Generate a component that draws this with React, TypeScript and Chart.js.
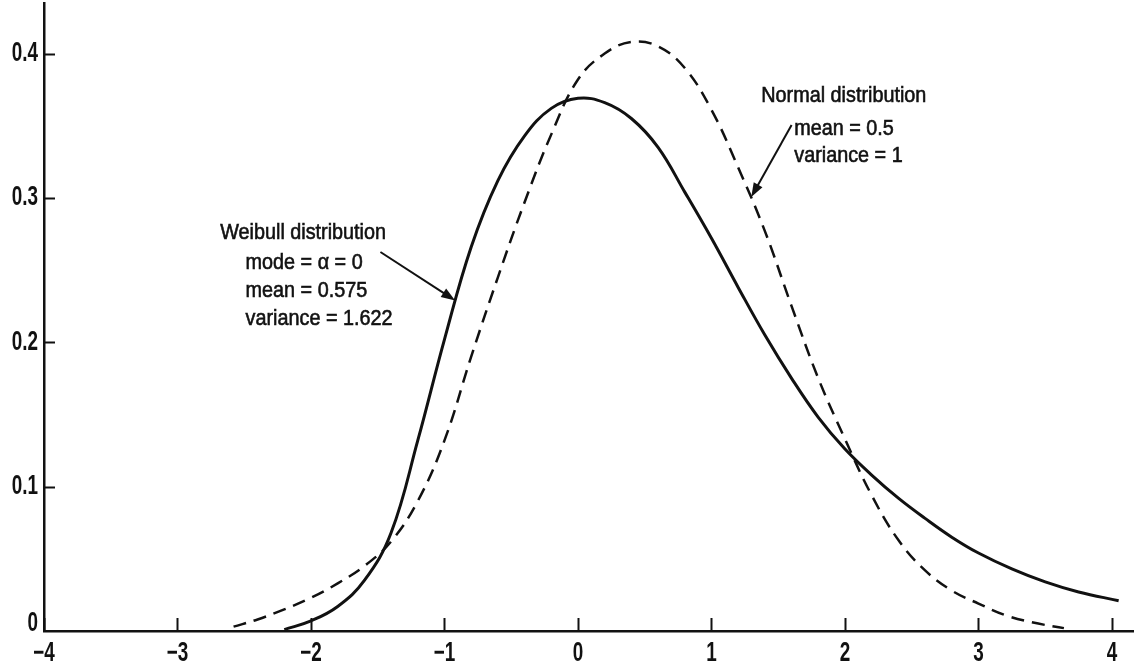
import React, { useEffect, useRef } from "react";
import { Chart, registerables } from "chart.js";

Chart.register(...registerables);

// ---- data ----
const normalX = [-2.58, -2.4, -2.2, -2.0, -1.8, -1.6, -1.4, -1.2, -1.0, -0.8, -0.6, -0.4, -0.2, 0.0, 0.2, 0.4, 0.6, 0.8, 1.0, 1.2, 1.4, 1.6, 1.8, 2.0, 2.2, 2.4, 2.6, 2.8, 3.0, 3.2, 3.4, 3.64];
const normalY = [0.003, 0.008, 0.015, 0.023, 0.033, 0.045, 0.062, 0.09, 0.132, 0.19, 0.245, 0.297, 0.344, 0.382, 0.4, 0.408, 0.405, 0.39, 0.361, 0.321, 0.277, 0.225, 0.175, 0.133, 0.094, 0.063, 0.042, 0.028, 0.019, 0.011, 0.006, 0.002];

const weibullX = [-2.2, -2.0, -1.8, -1.6, -1.4, -1.2, -1.0, -0.8, -0.6, -0.4, -0.2, 0.0, 0.2, 0.4, 0.6, 0.8, 1.0, 1.2, 1.4, 1.6, 1.8, 2.0, 2.2, 2.4, 2.6, 2.8, 3.0, 3.25, 3.5, 3.75, 4.05];
const weibullY = [0.001, 0.007, 0.017, 0.035, 0.068, 0.132, 0.202, 0.266, 0.312, 0.343, 0.362, 0.369, 0.366, 0.355, 0.335, 0.304, 0.272, 0.238, 0.205, 0.175, 0.148, 0.126, 0.108, 0.092, 0.078, 0.065, 0.054, 0.043, 0.034, 0.027, 0.021];

const xTickValues = [-4, -3, -2, -1, 0, 1, 2, 3, 4];
const xTickLabels = ["\u22124", "\u22123", "\u22122", "\u22121", "0", "1", "2", "3", "4"];
const yTickValues = [0, 0.1, 0.2, 0.3, 0.4];
const yTickLabels = ["0", "0.1", "0.2", "0.3", "0.4"];

const weibullLabel = ["Weibull distribution", "mode = \u03b1 = 0", "mean = 0.575", "variance = 1.622"];
const normalLabel = ["Normal distribution", "mean = 0.5", "variance = 1"];

// ---- layout (data coordinates of annotations) ----
const X_MIN = -4;
const X_MAX = 4.165;
const Y_MAX = 0.435;
const weibullText = [
  { x: -2.68, y: 0.2757 },
  { x: -2.49, y: 0.2549 },
  { x: -2.49, y: 0.2354 },
  { x: -2.49, y: 0.216 },
];
const normalText = [
  { x: 1.373, y: 0.3706 },
  { x: 1.62, y: 0.348 },
  { x: 1.62, y: 0.3289 },
];
const weibullArrow = { from: { x: -1.48, y: 0.2625 }, to: { x: -0.92, y: 0.229 } };
const normalArrow = { from: { x: 1.6, y: 0.3505 }, to: { x: 1.298, y: 0.3006 } };

const INK = "#111";
const FAMILY = '"Liberation Sans", Arial, sans-serif';
const TEXT_FONT = "22px " + FAMILY;
const TEXT_SCALE = 0.9;
const TICK_FONT = "bold 27px " + FAMILY;
const TICK_SCALE = 0.7;

function squeezedText(
  ctx: CanvasRenderingContext2D,
  t: string,
  x: number,
  y: number,
  sx: number,
  align: CanvasTextAlign,
  stroke: number
) {
  ctx.save();
  ctx.translate(x, y);
  ctx.scale(sx, 1);
  ctx.textAlign = align;
  ctx.textBaseline = "middle";
  if (stroke > 0) {
    ctx.lineWidth = stroke;
    ctx.strokeStyle = INK;
    ctx.strokeText(t, 0, 0);
  }
  ctx.fillText(t, 0, 0);
  ctx.restore();
}

function drawArrow(ctx: CanvasRenderingContext2D, x1: number, y1: number, x2: number, y2: number) {
  const ang = Math.atan2(y2 - y1, x2 - x1);
  const head = 14;
  const wing = 5;
  ctx.save();
  ctx.strokeStyle = INK;
  ctx.fillStyle = INK;
  ctx.lineWidth = 2;
  ctx.beginPath();
  ctx.moveTo(x1, y1);
  ctx.lineTo(x2 - Math.cos(ang) * head * 0.8, y2 - Math.sin(ang) * head * 0.8);
  ctx.stroke();
  ctx.beginPath();
  ctx.moveTo(x2, y2);
  ctx.lineTo(
    x2 - Math.cos(ang) * head - Math.sin(ang) * wing,
    y2 - Math.sin(ang) * head + Math.cos(ang) * wing
  );
  ctx.lineTo(
    x2 - Math.cos(ang) * head + Math.sin(ang) * wing,
    y2 - Math.sin(ang) * head - Math.cos(ang) * wing
  );
  ctx.closePath();
  ctx.fill();
  ctx.restore();
}

const annotationPlugin = {
  id: "annotations",
  afterDraw(chart: any) {
    const ctx: CanvasRenderingContext2D = chart.ctx;
    const xs = chart.scales.x;
    const ys = chart.scales.y;
    const area = chart.chartArea;
    const px = (v: number) => xs.getPixelForValue(v);
    const py = (v: number) => ys.getPixelForValue(v);

    ctx.save();
    ctx.strokeStyle = INK;
    ctx.lineWidth = 2;
    // y tick marks (inside)
    yTickValues.forEach((v) => {
      if (v === 0) return;
      const y = Math.round(py(v)) + 0.5;
      ctx.beginPath();
      ctx.moveTo(area.left, y);
      ctx.lineTo(area.left + 11, y);
      ctx.stroke();
    });
    // x tick marks (inside, upward)
    xTickValues.forEach((v) => {
      const x = Math.round(px(v)) + 0.5;
      ctx.beginPath();
      ctx.moveTo(x, area.bottom);
      ctx.lineTo(x, area.bottom - 13);
      ctx.stroke();
    });
    ctx.restore();

    // tick labels
    ctx.save();
    ctx.fillStyle = INK;
    ctx.font = TICK_FONT;
    yTickValues.forEach((v, i) => {
      const y = Math.min(py(v), area.bottom - 7);
      squeezedText(ctx, yTickLabels[i], area.left - 6, y, TICK_SCALE, "right", 0);
    });
    xTickValues.forEach((v, i) => {
      squeezedText(ctx, xTickLabels[i], px(v), area.bottom + 23, TICK_SCALE, "center", 0);
    });
    ctx.restore();

    // annotation text
    ctx.save();
    ctx.fillStyle = INK;
    ctx.font = TEXT_FONT;
    weibullLabel.forEach((t, i) =>
      squeezedText(ctx, t, px(weibullText[i].x), py(weibullText[i].y), TEXT_SCALE, "left", 0.6)
    );
    normalLabel.forEach((t, i) =>
      squeezedText(ctx, t, px(normalText[i].x), py(normalText[i].y), TEXT_SCALE, "left", 0.6)
    );
    ctx.restore();

    drawArrow(ctx, px(weibullArrow.from.x), py(weibullArrow.from.y), px(weibullArrow.to.x), py(weibullArrow.to.y));
    drawArrow(ctx, px(normalArrow.from.x), py(normalArrow.from.y), px(normalArrow.to.x), py(normalArrow.to.y));
  },
};

export default function App() {
  const ref = useRef<HTMLCanvasElement | null>(null);

  useEffect(() => {
    if (!ref.current) return;
    const chart = new Chart(ref.current, {
      type: "line",
      data: {
        datasets: [
          {
            label: "Normal distribution",
            data: normalX.map((x, i) => ({ x, y: normalY[i] })),
            borderColor: INK,
            borderWidth: 2.5,
            borderDash: [13, 8],
            pointRadius: 0,
            tension: 0.4,
            fill: false,
          },
          {
            label: "Weibull distribution",
            data: weibullX.map((x, i) => ({ x, y: weibullY[i] })),
            borderColor: INK,
            borderWidth: 3,
            pointRadius: 0,
            tension: 0.4,
            fill: false,
          },
        ],
      },
      options: {
        responsive: false,
        animation: false,
        devicePixelRatio: 1,
        layout: { padding: { top: 3, right: 0, left: 0, bottom: 0 } },
        plugins: { legend: { display: false }, tooltip: { enabled: false } },
        scales: {
          x: {
            type: "linear",
            min: X_MIN,
            max: X_MAX,
            afterBuildTicks: (scale: any) => {
              scale.ticks = xTickValues.map((v) => ({ value: v }));
            },
            afterFit: (scale: any) => {
              scale.height = 37;
              scale.paddingLeft = 0;
              scale.paddingRight = 0;
            },
            grid: { display: false, drawTicks: false },
            border: { display: true, color: INK, width: 2.5 },
            ticks: { display: false },
          },
          y: {
            type: "linear",
            min: 0,
            max: Y_MAX,
            afterBuildTicks: (scale: any) => {
              scale.ticks = yTickValues.map((v) => ({ value: v }));
            },
            afterFit: (scale: any) => {
              scale.width = 44;
              scale.paddingTop = 0;
              scale.paddingBottom = 0;
            },
            grid: { display: false, drawTicks: false },
            border: { display: true, color: INK, width: 2.5 },
            ticks: { display: false },
          },
        },
      },
      plugins: [annotationPlugin],
    });
    return () => chart.destroy();
  }, []);

  return (
    <div style={{ position: "absolute", left: 0, top: 0, width: 1134, height: 668, background: "#fff" }}>
      <canvas ref={ref} width={1134} height={668} style={{ width: 1134, height: 668 }} />
    </div>
  );
}
